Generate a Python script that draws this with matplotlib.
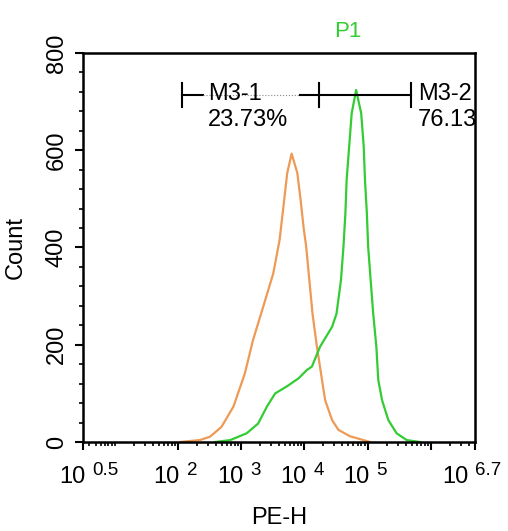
import numpy as np
import matplotlib
matplotlib.use("Agg")
import matplotlib.pyplot as plt
from matplotlib.ticker import FixedLocator, NullFormatter

plt.rcParams['font.family'] = ['Liberation Sans', 'DejaVu Sans']

# histogram outlines, x as log10(PE-H)
ctrl_log = [2.03, 2.35, 2.51, 2.69, 2.88, 3.06, 3.19, 3.27, 3.35, 3.51, 3.61, 3.67, 3.73,
            3.80, 3.89, 3.94, 3.99, 4.03, 4.08, 4.13, 4.20, 4.28, 4.33, 4.44, 4.54,
            4.72, 5.04]
ctrl_count = [0, 4, 11, 31, 73, 141, 210, 244, 278, 347, 416, 484, 553,
              593, 553, 500, 440, 402, 333, 264, 196, 128, 86, 45, 25,
              12, 0]

pe_log = [2.59, 2.83, 3.09, 3.27, 3.41, 3.54, 3.72, 3.91, 4.04, 4.12, 4.25, 4.44, 4.51,
          4.58, 4.62, 4.65, 4.67, 4.71, 4.75, 4.82, 4.90, 4.94, 4.96, 4.99, 5.01,
          5.05, 5.09, 5.14, 5.17, 5.23, 5.33, 5.46, 5.62, 5.83]
pe_count = [0, 4, 18, 38, 73, 100, 114, 131, 148, 155, 196, 237, 264,
            333, 402, 470, 539, 608, 676, 724, 676, 608, 539, 470, 402,
            333, 264, 196, 128, 86, 45, 18, 4, 0]

# gates (log10 bounds), labels
gate_m1 = [2.07, 4.23]
gate_m2 = [4.23, 5.69]
gate_y = 714
m1_label, m1_pct = "M3-1", "23.73%"
m2_label, m2_pct = "M3-2", "76.13%"

x_major = [0.5, 2, 3, 4, 5, 6.7]
x_major_labels = ["0.5", "2", "3", "4", "5", "6.7"]

fig = plt.figure(figsize=(5.08, 5.31), dpi=100)
ax = fig.add_axes([0.1634, 0.1676, 0.7716, 0.7326])

ax.plot(10 ** np.array(ctrl_log), ctrl_count, color='#EE9A55', lw=1.6)
ax.plot(10 ** np.array(pe_log), pe_count, color='#33CC33', lw=1.6)

ax.set_xscale('log')
ax.set_xlim(10 ** 0.5, 10 ** 6.7)
ax.set_ylim(0, 800)

# x ticks
ax.xaxis.set_major_locator(FixedLocator([10 ** v for v in [0.5, 2, 3, 4, 5, 6, 6.7]]))
minors = [m * 10 ** e for e in range(0, 7) for m in range(1, 10)]
minors = [v for v in minors if 10 ** 0.5 < v < 10 ** 6.7]
ax.xaxis.set_minor_locator(FixedLocator(minors))
ax.xaxis.set_major_formatter(NullFormatter())
ax.xaxis.set_minor_formatter(NullFormatter())
ax.tick_params(axis='x', which='major', length=6, width=1.5, direction='out')
ax.tick_params(axis='x', which='minor', length=3, width=1.2, direction='out')

for v, lab in zip(x_major, x_major_labels):
    shift = -6.5 if v == x_major[-1] else 0   # last label pulled in, like the original
    ax.annotate("10", xy=(10 ** v, 0), xycoords=('data', 'axes fraction'),
                xytext=(1.5 + shift, -29.5), textcoords='offset points',
                ha='right', va='baseline', fontsize=17)
    ax.annotate(lab, xy=(10 ** v, 0), xycoords=('data', 'axes fraction'),
                xytext=(6.5 + shift, -23.8), textcoords='offset points',
                ha='left', va='baseline', fontsize=13.5)

# y ticks
ax.set_yticks([0, 200, 400, 600, 800])
ax.set_yticks(np.arange(0, 801, 40), minor=True)
ax.set_yticklabels(["0", "200", "400", "600", "800"], rotation=90, va='center', fontsize=17)
ax.tick_params(axis='y', which='major', length=6, width=1.5, direction='out', pad=5)
ax.tick_params(axis='y', which='minor', length=3, width=1.2, direction='out')

for s in ax.spines.values():
    s.set_linewidth(1.8)

ax.set_xlabel("PE-H", fontsize=17, labelpad=37)
ax.set_ylabel("Count", fontsize=17, labelpad=14)

# gate markers
ax.plot([10 ** 2.07, 10 ** 2.40], [gate_y, gate_y], color='black', lw=1.5)
ax.plot([10 ** 2.40, 10 ** 3.93], [gate_y, gate_y], color='#888888', lw=0.8, ls=':')
ax.plot([10 ** 3.93, 10 ** gate_m1[1]], [gate_y, gate_y], color='black', lw=1.5)
ax.plot([10 ** gate_m2[0], 10 ** gate_m2[1]], [gate_y, gate_y], color='black', lw=1.5)
for g in [gate_m1[0], gate_m1[1], gate_m2[1]]:
    ax.plot([10 ** g, 10 ** g], [689, 739], color='black', lw=1.5)

ax.text(10 ** 2.48, 716, m1_label, fontsize=17, va='center', ha='left')
ax.text(10 ** 2.48, 663, m1_pct, fontsize=17, va='center', ha='left')
ax.text(10 ** 5.80, 716, m2_label, fontsize=17, va='center', ha='left', clip_on=True)
ax.text(10 ** 5.80, 663, m2_pct, fontsize=17, va='center', ha='left', clip_on=True)

fig.text(0.685, 0.94, "P1", color='#33CC33', fontsize=16, ha='center', va='center')

fig.savefig("out.png", dpi=100)
